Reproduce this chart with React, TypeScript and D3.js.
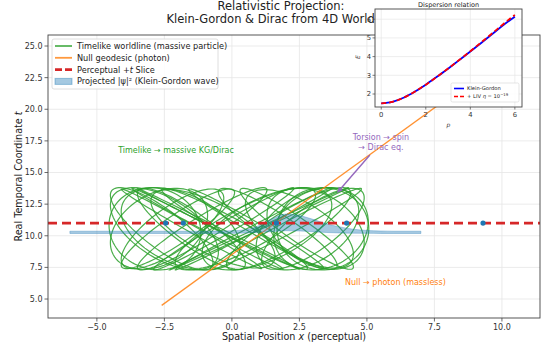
import { useEffect, useRef } from 'react';
import * as d3 from 'd3';

// main chart data
const xTicks = [-5, -2.5, 0, 2.5, 5, 7.5, 10];
const tTicks = [5, 7.5, 10, 12.5, 15, 17.5, 20, 22.5, 25];

// worldline loops: centre x, half width, phase (deg), half height
const loopCx = [-2.85, -2.7, -2.5, -2.2, -1.9, -1.5, -1.1, -0.7, -0.3, 0.1, 0.5, 0.9, 1.3, 1.7, 2.1, 2.5, 2.8, 3.1, 3.3, 3.37, -0.9, 0.8, -2.0, 2.4, -0.5, 1.0, -1.5, 2.0, -2.6, 3.0];
const loopAx = [1.7, 1.8, 2.0, 1.9, 2.2, 2.0, 2.4, 2.3, 2.6, 2.7, 2.6, 2.5, 2.4, 2.2, 2.3, 2.0, 1.9, 1.8, 1.75, 1.7, 2.8, 2.9, 2.1, 2.1, 3.0, 3.3, 2.6, 2.8, 1.9, 1.9];
const loopPhase = [5, -20, 35, -50, 25, 60, -70, 45, -80, 75, -55, 80, -35, 65, -60, 40, -25, 20, -10, 0, 85, -85, -65, 70, 88, -88, 84, -80, 55, -50];
const loopRt = [3.25, 3.2, 3.25, 3.15, 3.25, 3.2, 3.25, 3.1, 3.25, 3.2, 3.25, 3.15, 3.25, 3.2, 3.25, 3.1, 3.25, 3.2, 3.25, 3.25, 3.2, 3.25, 3.15, 3.2, 3.2, 3.25, 3.15, 3.2, 3.25, 3.2];
const loopT0 = 10.55;

const photonX = [-2.6, 10.6];
const photonT = [4.5, 24.9];

const sliceT = 11;
const dotX = [-2.45, -1.8, 1.65, 4.25, 9.3];

const waveX = [-6, -5, -4, -3, -2, -1, -0.5, 0, 0.5, 1, 1.5, 2, 2.5, 3, 3.5, 4, 4.5, 5, 5.5, 6, 7];
const waveLo = [10.18, 10.18, 10.18, 10.18, 10.18, 10.18, 10.18, 10.19, 10.22, 10.27, 10.33, 10.4, 10.38, 10.32, 10.26, 10.22, 10.2, 10.19, 10.18, 10.18, 10.18];
const waveHi = [10.36, 10.36, 10.36, 10.36, 10.36, 10.36, 10.37, 10.4, 10.48, 10.8, 11.35, 11.72, 11.6, 11.3, 10.95, 10.7, 10.52, 10.42, 10.38, 10.36, 10.36];

// inset: dispersion relation
const pVals = [0, 0.5, 1, 1.5, 2, 2.5, 3, 3.5, 4, 4.5, 5, 5.5, 6];
const eKG = [1.5, 1.58, 1.8, 2.12, 2.5, 2.92, 3.35, 3.81, 4.27, 4.74, 5.22, 5.7, 6.13];
const eLIV = [1.5, 1.58, 1.8, 2.12, 2.5, 2.92, 3.36, 3.82, 4.29, 4.77, 5.26, 5.76, 6.23];
const pTicks = [0, 2, 4, 6];
const eTicks = [2, 3, 4, 5, 6];

const FONT = 'DejaVu Sans, sans-serif';
const fmt = (v: number) => d3.format('.1f')(v).replace('-', '\u2212');

export default function App() {
  const ref = useRef<SVGSVGElement>(null);

  useEffect(() => {
    if (!ref.current) return;
    const svg = d3.select(ref.current);
    svg.selectAll('*').remove();

    const L = 48, R = 540, T = 35, B = 318;
    const x = d3.scaleLinear().domain([-6.81, 11.41]).range([L, R]);
    const y = d3.scaleLinear().domain([3.5, 25.87]).range([B, T]);

    svg.append('rect').attr('width', 548).attr('height', 346).attr('fill', '#fff');

    // title
    const title = svg.append('text')
      .attr('text-anchor', 'middle')
      .attr('font-family', FONT)
      .attr('font-size', 11.5)
      .attr('fill', '#222');
    title.append('tspan').attr('x', 281).attr('y', 9.5).text('Relativistic Projection:');
    title.append('tspan').attr('x', 281).attr('y', 22.5).text('Klein-Gordon & Dirac from 4D Worldline');

    svg.append('defs').append('clipPath').attr('id', 'plot')
      .append('rect').attr('x', L).attr('y', T).attr('width', R - L).attr('height', B - T);

    // grid
    const grid = svg.append('g').attr('stroke', '#e6e6e6').attr('stroke-width', 0.8);
    xTicks.forEach(v => grid.append('line').attr('x1', x(v)).attr('x2', x(v)).attr('y1', T).attr('y2', B));
    tTicks.forEach(v => grid.append('line').attr('x1', L).attr('x2', R).attr('y1', y(v)).attr('y2', y(v)));

    const plot = svg.append('g').attr('clip-path', 'url(#plot)');

    // timelike worldline loops
    const angles = d3.range(0, 361, 4).map(a => (a * Math.PI) / 180);
    const line = d3.line<[number, number]>().x(d => x(d[0])).y(d => y(d[1]));
    loopCx.forEach((cx, i) => {
      const ph = (loopPhase[i] * Math.PI) / 180;
      const pts = angles.map(a => [cx + loopAx[i] * Math.cos(a + ph), loopT0 + loopRt[i] * Math.sin(a)] as [number, number]);
      plot.append('path')
        .attr('d', line(pts))
        .attr('fill', 'none')
        .attr('stroke', '#2ca02c')
        .attr('stroke-opacity', 0.85)
        .attr('stroke-width', 1.2);
    });

    // null geodesic
    plot.append('line')
      .attr('x1', x(photonX[0])).attr('y1', y(photonT[0]))
      .attr('x2', x(photonX[1])).attr('y2', y(photonT[1]))
      .attr('stroke', '#ff7f0e')
      .attr('stroke-opacity', 0.85)
      .attr('stroke-width', 1.3);

    // projected wave
    const area = d3.area<number>()
      .x((_, i) => x(waveX[i]))
      .y0((_, i) => y(waveLo[i]))
      .y1((_, i) => y(waveHi[i]))
      .curve(d3.curveMonotoneX);
    plot.append('path')
      .attr('d', area(waveX))
      .attr('fill', '#1f77b4')
      .attr('fill-opacity', 0.4)
      .attr('stroke', '#1f77b4')
      .attr('stroke-opacity', 0.4)
      .attr('stroke-width', 0.8);

    // slice
    plot.append('line')
      .attr('x1', L).attr('x2', R)
      .attr('y1', y(sliceT)).attr('y2', y(sliceT))
      .attr('stroke', '#d62728')
      .attr('stroke-width', 2.8)
      .attr('stroke-dasharray', '9,5');

    dotX.forEach(v => {
      plot.append('circle')
        .attr('cx', x(v)).attr('cy', y(sliceT)).attr('r', 2.6)
        .attr('fill', '#1f77b4');
    });

    // annotations
    svg.append('text')
      .attr('x', x(-2.07)).attr('y', y(16.54))
      .attr('text-anchor', 'middle')
      .attr('font-family', FONT).attr('font-size', 8)
      .attr('fill', '#2ca02c')
      .text('Timelike \u2192 massive KG/Dirac');

    svg.append('text')
      .attr('x', x(4.19)).attr('y', y(6.1))
      .attr('font-family', FONT).attr('font-size', 8)
      .attr('fill', '#ff7f0e')
      .text('Null \u2192 photon (massless)');

    const tor = svg.append('text')
      .attr('text-anchor', 'middle')
      .attr('font-family', FONT).attr('font-size', 8)
      .attr('fill', '#9467bd');
    tor.append('tspan').attr('x', x(5.52)).attr('y', y(17.57)).text('Torsion \u2192 spin');
    tor.append('tspan').attr('x', x(5.52)).attr('y', y(16.78)).text('\u2192 Dirac eq.');

    const ax0 = x(5.11), ay0 = y(16.38), ax1 = x(3.89), ay1 = y(13.38);
    const ang = Math.atan2(ay1 - ay0, ax1 - ax0);
    svg.append('line')
      .attr('x1', ax0).attr('y1', ay0)
      .attr('x2', ax1 - 5 * Math.cos(ang)).attr('y2', ay1 - 5 * Math.sin(ang))
      .attr('stroke', '#9467bd').attr('stroke-width', 1.4);
    const hw = 2.6, hl = 6;
    const bx = ax1 - hl * Math.cos(ang), by = ay1 - hl * Math.sin(ang);
    svg.append('path')
      .attr('d', `M${ax1},${ay1}L${bx - hw * Math.sin(ang)},${by + hw * Math.cos(ang)}L${bx + hw * Math.sin(ang)},${by - hw * Math.cos(ang)}Z`)
      .attr('fill', '#9467bd');

    // frame and ticks
    svg.append('rect')
      .attr('x', L).attr('y', T).attr('width', R - L).attr('height', B - T)
      .attr('fill', 'none').attr('stroke', '#444').attr('stroke-width', 0.9);

    const axes = svg.append('g').attr('font-family', FONT).attr('font-size', 8).attr('fill', '#333');
    xTicks.forEach(v => {
      axes.append('line').attr('x1', x(v)).attr('x2', x(v)).attr('y1', B).attr('y2', B + 3.5).attr('stroke', '#444').attr('stroke-width', 0.8);
      axes.append('text').attr('x', x(v)).attr('y', B + 12).attr('text-anchor', 'middle').text(fmt(v));
    });
    tTicks.forEach(v => {
      axes.append('line').attr('x1', L - 3.5).attr('x2', L).attr('y1', y(v)).attr('y2', y(v)).attr('stroke', '#444').attr('stroke-width', 0.8);
      axes.append('text').attr('x', L - 5.5).attr('y', y(v) + 2.9).attr('text-anchor', 'end').text(fmt(v));
    });

    const xl = svg.append('text')
      .attr('x', (L + R) / 2).attr('y', 340)
      .attr('text-anchor', 'middle')
      .attr('font-family', FONT).attr('font-size', 9.6).attr('fill', '#222');
    xl.append('tspan').text('Spatial Position ');
    xl.append('tspan').attr('font-style', 'italic').text('x');
    xl.append('tspan').text(' (perceptual)');

    const yl = svg.append('text')
      .attr('transform', `translate(22,${(T + B) / 2}) rotate(-90)`)
      .attr('text-anchor', 'middle')
      .attr('font-family', FONT).attr('font-size', 9.6).attr('fill', '#222');
    yl.append('tspan').text('Real Temporal Coordinate ');
    yl.append('tspan').attr('font-style', 'italic').text('t');

    // legend
    const lg = svg.append('g').attr('font-family', FONT).attr('font-size', 8.2).attr('fill', '#222');
    lg.append('rect').attr('x', 52).attr('y', 39).attr('width', 166).attr('height', 50).attr('rx', 2)
      .attr('fill', '#fff').attr('fill-opacity', 0.85).attr('stroke', '#d5d5d5').attr('stroke-width', 0.8);
    const items = [
      { label: 'Timelike worldline (massive particle)', kind: 'g' },
      { label: 'Null geodesic (photon)', kind: 'o' },
      { label: 'Perceptual +t Slice', kind: 'r' },
      { label: 'Projected |\u03c8|\u00b2 (Klein-Gordon wave)', kind: 'b' },
    ];
    items.forEach((it, i) => {
      const cy = 46 + i * 11.8;
      if (it.kind === 'b') {
        lg.append('rect').attr('x', 55).attr('y', cy - 3).attr('width', 17).attr('height', 6)
          .attr('fill', '#1f77b4').attr('fill-opacity', 0.4).attr('stroke', '#1f77b4').attr('stroke-opacity', 0.4);
      } else {
        const col = it.kind === 'g' ? '#2ca02c' : it.kind === 'o' ? '#ff7f0e' : '#d62728';
        lg.append('line').attr('x1', 55).attr('x2', 72).attr('y1', cy).attr('y2', cy)
          .attr('stroke', col)
          .attr('stroke-opacity', it.kind === 'r' ? 1 : 0.8)
          .attr('stroke-width', it.kind === 'r' ? 2.8 : 1.8)
          .attr('stroke-dasharray', it.kind === 'r' ? '7,3' : null);
      }
      const tx = lg.append('text').attr('x', 77).attr('y', cy + 3);
      if (it.kind === 'r') {
        tx.append('tspan').text('Perceptual +');
        tx.append('tspan').attr('font-style', 'italic').text('t');
        tx.append('tspan').text(' Slice');
      } else {
        tx.text(it.label);
      }
    });

    // inset
    const iL = 375, iR = 522, iT = 9, iB = 107;
    const px = d3.scaleLinear().domain([-0.28, 6.32]).range([iL, iR]);
    const py = d3.scaleLinear().domain([1.305, 6.545]).range([iB, iT]);
    svg.append('rect').attr('x', iL).attr('y', iT).attr('width', iR - iL).attr('height', iB - iT).attr('fill', '#fff');
    const ig = svg.append('g').attr('stroke', '#e6e6e6').attr('stroke-width', 0.7);
    pTicks.forEach(v => ig.append('line').attr('x1', px(v)).attr('x2', px(v)).attr('y1', iT).attr('y2', iB));
    eTicks.forEach(v => { if (py(v) > iT) ig.append('line').attr('x1', iL).attr('x2', iR).attr('y1', py(v)).attr('y2', py(v)); });

    const dl = d3.line<number>().x((_, i) => px(pVals[i])).curve(d3.curveMonotoneX);
    svg.append('path').attr('d', dl.y(d => py(d))(eKG))
      .attr('fill', 'none').attr('stroke', '#0000ff').attr('stroke-width', 1.8);
    svg.append('path').attr('d', dl.y(d => py(d))(eLIV))
      .attr('fill', 'none').attr('stroke', '#ff0000').attr('stroke-width', 1.8).attr('stroke-dasharray', '5,3');

    svg.append('rect').attr('x', iL).attr('y', iT).attr('width', iR - iL).attr('height', iB - iT)
      .attr('fill', 'none').attr('stroke', '#444').attr('stroke-width', 0.9);

    const ia = svg.append('g').attr('font-family', FONT).attr('font-size', 6.8).attr('fill', '#333');
    pTicks.forEach(v => {
      ia.append('line').attr('x1', px(v)).attr('x2', px(v)).attr('y1', iB).attr('y2', iB + 2.5).attr('stroke', '#444').attr('stroke-width', 0.7);
      ia.append('text').attr('x', px(v)).attr('y', iB + 10).attr('text-anchor', 'middle').text(String(v));
    });
    eTicks.forEach(v => {
      ia.append('line').attr('x1', iL - 2.5).attr('x2', iL).attr('y1', py(v)).attr('y2', py(v)).attr('stroke', '#444').attr('stroke-width', 0.7);
      ia.append('text').attr('x', iL - 4).attr('y', py(v) + 2.4).attr('text-anchor', 'end').text(String(v));
    });
    ia.append('text').attr('x', (iL + iR) / 2).attr('y', 127).attr('text-anchor', 'middle')
      .attr('font-style', 'italic').attr('font-size', 6).text('p');
    ia.append('text').attr('transform', `translate(360,57) rotate(-90)`).attr('text-anchor', 'middle')
      .attr('font-style', 'italic').attr('font-size', 6).text('E');
    ia.append('text').attr('x', (iL + iR) / 2).attr('y', 6.5).attr('text-anchor', 'middle')
      .attr('font-size', 6.5).attr('fill', '#222').text('Dispersion relation');

    const il = svg.append('g').attr('font-family', FONT).attr('font-size', 5.2).attr('fill', '#222');
    il.append('rect').attr('x', 451).attr('y', 83).attr('width', 68).attr('height', 19).attr('rx', 1.5)
      .attr('fill', '#fff').attr('fill-opacity', 0.85).attr('stroke', '#d5d5d5').attr('stroke-width', 0.6);
    il.append('line').attr('x1', 454).attr('x2', 464).attr('y1', 88.5).attr('y2', 88.5).attr('stroke', '#0000ff').attr('stroke-width', 1.6);
    il.append('line').attr('x1', 454).attr('x2', 464).attr('y1', 96.5).attr('y2', 96.5).attr('stroke', '#ff0000').attr('stroke-width', 1.6).attr('stroke-dasharray', '4,2');
    il.append('text').attr('x', 467).attr('y', 90.4).text('Klein-Gordon');
    const lt = il.append('text').attr('x', 467).attr('y', 98.4);
    lt.append('tspan').text('+ LIV ');
    lt.append('tspan').attr('font-style', 'italic').text('\u03b7');
    lt.append('tspan').text(' = 10');
    lt.append('tspan').attr('font-size', 3.8).attr('dy', -2).text('\u221219');
  }, []);

  return (
    <svg
      ref={ref}
      width={548}
      height={346}
      style={{ position: 'absolute', left: 0, top: 0, display: 'block' }}
    />
  );
}
